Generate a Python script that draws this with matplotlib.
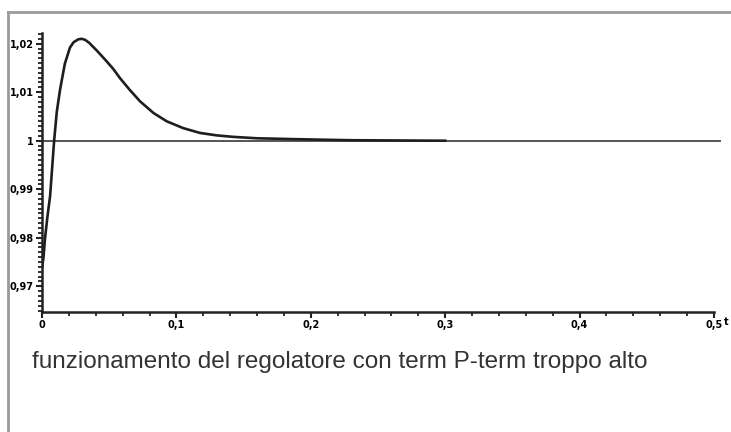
import matplotlib.pyplot as plt
from matplotlib.lines import Line2D
from matplotlib.ticker import MultipleLocator, FuncFormatter

# Step response
t = [0, 0.001, 0.0022, 0.004, 0.006, 0.009, 0.011, 0.0134, 0.017, 0.0208,
     0.0235, 0.027, 0.0295, 0.032, 0.035, 0.0407, 0.047, 0.053, 0.058,
     0.0655, 0.073, 0.083, 0.0928, 0.105, 0.1176, 0.13, 0.142, 0.16, 0.192,
     0.23, 0.3]
y = [0.9740, 0.9757, 0.9798, 0.9843, 0.9886, 1.0000, 1.0060, 1.0105, 1.0159,
     1.0192, 1.0203, 1.0209, 1.0210, 1.0208, 1.0202, 1.0186, 1.0167, 1.0148,
     1.0129, 1.0104, 1.0081, 1.0057, 1.0040, 1.0026, 1.0016, 1.0011, 1.0008,
     1.0005, 1.0003, 1.0001, 1.0000]
setpoint = 1.0
caption = "funzionamento del regolatore con term P-term troppo alto"

fig = plt.figure(figsize=(7.31, 4.32), dpi=100)
ax = fig.add_axes([0.0575, 0.2778, 0.9192, 0.6458])

ax.plot([0, 0.5045], [setpoint, setpoint], color='#555555', lw=1.4, clip_on=False)
ax.plot(t, y, color='#1e1e1e', lw=1.9, solid_joinstyle='round')

ax.set_xlim(0, 0.5)
ax.set_ylim(0.9647, 1.0222)

for s in ['top', 'right']:
    ax.spines[s].set_visible(False)
for s in ['left', 'bottom']:
    ax.spines[s].set_linewidth(1.8)
    ax.spines[s].set_color('#222222')

comma = FuncFormatter(lambda v, p: ('%g' % round(v, 3)).replace('.', ','))
ax.xaxis.set_major_locator(MultipleLocator(0.1))
ax.xaxis.set_minor_locator(MultipleLocator(0.02))
ax.yaxis.set_major_locator(MultipleLocator(0.01))
ax.yaxis.set_minor_locator(MultipleLocator(0.001))
ax.xaxis.set_major_formatter(comma)
ax.yaxis.set_major_formatter(comma)
ax.tick_params(which='major', length=4, width=1.5, color='#222222',
               labelsize=7, pad=2)
ax.tick_params(which='minor', length=3, width=1.3, color='#222222')
for lab in ax.get_xticklabels() + ax.get_yticklabels():
    lab.set_fontweight('bold')
    lab.set_fontfamily('DejaVu Sans Condensed')

fig.text(0.990, 0.255, 't', fontsize=7, fontweight='bold', va='center')

fig.text(0.0438, 0.162, caption, fontsize=17.5, color='#333333',
         family='Liberation Sans', va='center')

# grey frame around the figure content
fig.add_artist(Line2D([8 / 731, 8 / 731], [0, 1 - 12 / 432],
                      transform=fig.transFigure, color='#9a9a9a', lw=2))
fig.add_artist(Line2D([8 / 731, 1], [1 - 12 / 432, 1 - 12 / 432],
                      transform=fig.transFigure, color='#9a9a9a', lw=2))

fig.savefig('out.png', dpi=100)
